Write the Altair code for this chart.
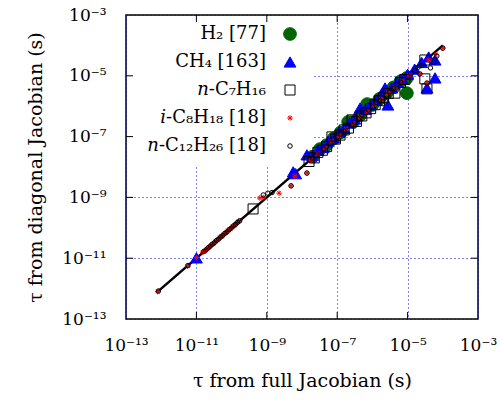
import altair as alt
import pandas as pd

# ---- data: log10 values ----
series_names = ["H₂ [77]", "CH₄ [163]", "𝑛-C₇H₁₆", "𝑖-C₈H₁₈ [18]", "𝑛-C₁₂H₂₆ [18]"]

h2_x = [-7.70, -7.49, -7.30, -7.10, -6.90, -6.69, -6.55, -6.35, -6.15, -6.00, -5.80, -5.60, -5.40, -5.20, -5.02, -5.02]
h2_y = [-7.66, -7.41, -7.28, -7.06, -6.86, -6.52, -6.52, -6.30, -5.93, -5.96, -5.76, -5.57, -5.38, -5.18, -5.07, -5.57]

ch4_x = [-11.00, -8.25, -8.18, -7.86, -7.70, -7.55, -7.40, -7.25, -7.10, -6.95, -6.80, -6.65, -6.50, -6.35, -6.20,
         -6.05, -5.90, -5.75, -5.64, -5.56, -5.45, -5.30, -5.15, -5.00, -4.80, -4.60, -4.40, -4.22, -4.22, -4.45]
ch4_y = [-10.99, -8.16, -8.22, -7.60, -7.62, -7.45, -7.36, -7.15, -7.04, -6.85, -6.74, -6.55, -6.42, -6.06, -6.10,
         -5.95, -5.80, -5.62, -5.40, -5.96, -5.40, -5.22, -5.10, -4.95, -4.78, -4.56, -4.38, -4.48, -5.07, -5.40]

c7_x = [-9.39, -7.80, -7.65, -7.55, -7.42, -7.30, -7.15, -7.05, -6.92, -6.80, -6.68, -6.58, -6.45, -6.30, -6.18,
        -6.05, -5.92, -5.80, -5.68, -5.55, -5.36, -5.20, -5.08, -4.51, -4.51, -4.45]
c7_y = [-9.38, -7.82, -7.70, -7.52, -7.45, -7.33, -7.01, -7.08, -6.95, -6.78, -6.72, -6.45, -6.50, -6.32, -6.22,
        -6.08, -5.95, -5.82, -5.72, -5.58, -5.57, -5.22, -5.12, -4.48, -5.10, -5.43]

c8_x = [-12.10, -11.25, -11.00, -10.82, -10.76, -10.70, -10.64, -10.58, -10.52, -10.46, -10.40, -10.34, -10.28,
        -10.22, -10.16, -10.10, -10.04, -9.98, -9.92, -9.86, -9.80, -9.20, -9.10, -8.65, -8.31, -8.20, -7.86,
        -7.75, -7.55, -7.35, -7.15, -6.95, -6.75, -6.55, -6.35, -6.15, -5.95, -5.75, -5.55, -5.35, -5.15, -4.95,
        -4.65, -4.45, -4.40, -4.20, -4.00]
c8_y = [-12.10, -11.26, -10.98, -10.80, -10.77, -10.69, -10.65, -10.57, -10.53, -10.45, -10.41, -10.33, -10.29,
        -10.21, -10.17, -10.09, -10.05, -9.97, -9.93, -9.85, -9.79, -9.02, -9.00, -8.86, -8.62, -8.30, -8.20,
        -7.78, -7.56, -7.38, -7.15, -6.98, -6.75, -6.57, -6.35, -6.18, -5.97, -5.76, -5.56, -5.37, -5.17, -4.98,
        -4.94, -5.24, -4.48, -4.30, -4.09]

c12_x = [-12.08, -11.24, -10.79, -10.73, -10.67, -10.61, -10.55, -10.49, -10.43, -10.37, -10.31, -10.25, -10.19,
         -10.13, -10.07, -10.01, -9.95, -9.89, -9.83, -9.77, -9.10, -8.97, -8.85, -8.31, -7.86, -7.78, -7.70,
         -7.60, -7.50, -7.40, -7.30, -7.20, -7.10, -7.00, -6.90, -6.80, -6.70, -6.60, -6.50, -6.40, -6.30, -6.20,
         -6.10, -6.00, -5.90, -5.80, -5.70, -5.60, -5.50, -5.40, -5.30, -5.20, -5.10, -5.00, -4.90, -4.80, -4.70,
         -4.60, -4.45, -4.35, -4.25, -4.17, -4.00, -4.65]
c12_y = [-12.08, -11.24, -10.78, -10.73, -10.66, -10.61, -10.54, -10.49, -10.42, -10.37, -10.30, -10.25, -10.18,
         -10.13, -10.06, -10.01, -9.94, -9.89, -9.82, -9.77, -8.92, -8.86, -8.84, -8.62, -8.20, -7.75, -7.72,
         -7.62, -7.48, -7.42, -7.32, -7.22, -7.08, -7.02, -6.92, -6.82, -6.68, -6.62, -6.52, -6.42, -6.28, -6.22,
         -6.12, -6.02, -5.88, -5.82, -5.72, -5.63, -5.52, -5.42, -5.28, -5.23, -5.12, -5.03, -4.92, -4.83, -4.72,
         -4.66, -5.24, -4.74, -4.55, -4.35, -4.09, -4.94]

diag_exp = [-12.1, -4.0]
tick_exps = [-13, -11, -9, -7, -5, -3]
tick_labels = ["10⁻¹³", "10⁻¹¹", "10⁻⁹", "10⁻⁷", "10⁻⁵", "10⁻³"]
inner_exps = [-11, -9, -7, -5]

# ---- tables ----
rows = []
idx = 0
for name, xs, ys in zip(series_names, [h2_x, ch4_x, c7_x, c8_x, c12_x], [h2_y, ch4_y, c7_y, c8_y, c12_y]):
    for a, b in zip(xs, ys):
        rows.append({"series": name, "x": 10.0 ** a, "y": 10.0 ** b, "idx": idx})
        idx += 1
df = pd.DataFrame(rows)
diag = pd.DataFrame({"x": [10.0 ** e for e in diag_exp], "y": [10.0 ** e for e in diag_exp]})
ticks = pd.DataFrame({"v": [10.0 ** e for e in inner_exps]})

W, H = 352, 304
FONT = "DejaVu Serif"

label_expr = "".join(
    f"round(log(datum.value)/LN10)=={e} ? '{t}' : " for e, t in zip(tick_exps, tick_labels)
) + "''"

xscale = alt.Scale(type="log", domain=[1e-13, 1e-3], nice=False)
yscale = alt.Scale(type="log", domain=[1e-13, 1e-3], nice=False)
tick_values = [10.0 ** e for e in tick_exps]

xaxis = alt.Axis(values=tick_values, labelExpr=label_expr, title="τ from full Jacobian (s)",
                 labelPadding=18, titlePadding=18, labelFlush=False)
yaxis = alt.Axis(values=tick_values, labelExpr=label_expr, title="τ from diagonal Jacobian (s)",
                 labelPadding=20, titlePadding=16, labelFlush=False)

star = "M-1,0H1M0,-1V1M-0.7,-0.7L0.7,0.7M-0.7,0.7L0.7,-0.7"
shapes = ["circle", "triangle-up", "square", star, "circle"]
fills = ["#006400", "#0000ff", "transparent", "#ff0000", "transparent"]
strokes = ["#006400", "#0000ff", "#000000", "#ff0000", "#000000"]
sizes = [160, 140, 100, 30, 20]

leg = alt.Legend(title=None, orient="none", legendX=155, legendY=10, labelAlign="right",
                 labelOffset={"expr": "-33"},
                 labelFont=FONT, labelFontSize=18, labelColor="black", rowPadding=10, padding=0,
                 symbolStrokeWidth=1, symbolOpacity=1, labelLimit=300)

bg = alt.Chart(ticks).mark_rect(color="white").encode(
    x=alt.value(1), x2=alt.value(187), y=alt.value(1), y2=alt.value(150))

line = alt.Chart(diag).mark_line(color="black", strokeWidth=2.5).encode(
    x=alt.X("x:Q", scale=xscale, axis=xaxis), y=alt.Y("y:Q", scale=yscale, axis=yaxis))

pts = alt.Chart(df).mark_point(opacity=1, strokeWidth=1).encode(
    x=alt.X("x:Q", scale=xscale, axis=xaxis),
    y=alt.Y("y:Q", scale=yscale, axis=yaxis),
    shape=alt.Shape("series:N", scale=alt.Scale(domain=series_names, range=shapes), legend=leg),
    fill=alt.Fill("series:N", scale=alt.Scale(domain=series_names, range=fills), legend=leg),
    stroke=alt.Stroke("series:N", scale=alt.Scale(domain=series_names, range=strokes), legend=leg),
    size=alt.Size("series:N", scale=alt.Scale(type="ordinal", domain=series_names, range=sizes), legend=leg),
    order=alt.Order("idx:Q"),
)

tb = alt.Chart(ticks).mark_rule(color="black", strokeWidth=1).encode(
    x=alt.X("v:Q", scale=xscale), y=alt.value(H), y2=alt.value(H - 7))
tt = alt.Chart(ticks).mark_rule(color="black", strokeWidth=1).encode(
    x=alt.X("v:Q", scale=xscale), y=alt.value(0), y2=alt.value(7))
tl = alt.Chart(ticks).mark_rule(color="black", strokeWidth=1).encode(
    y=alt.Y("v:Q", scale=yscale), x=alt.value(0), x2=alt.value(7))
tr = alt.Chart(ticks).mark_rule(color="black", strokeWidth=1).encode(
    y=alt.Y("v:Q", scale=yscale), x=alt.value(W), x2=alt.value(W - 7))

chart = alt.layer(bg, line, pts, tb, tt, tl, tr).properties(
    width=W, height=H,
    autosize=alt.AutoSizeParams(type="none"),
    padding={"left": 126, "top": 15, "right": 23, "bottom": 87},
    background="white",
).configure_view(stroke="black", strokeWidth=1.5).configure_axis(
    domain=False, ticks=False, grid=True, gridColor="#0000ff", gridDash=[1, 3], gridWidth=1, gridOpacity=1,
    labelFont=FONT, labelFontSize=17, labelColor="black", titleFont=FONT, titleFontSize=19,
    titleFontWeight="normal", titleColor="black",
)

chart.save("out.html", embed_options={"renderer": "svg", "actions": False})
